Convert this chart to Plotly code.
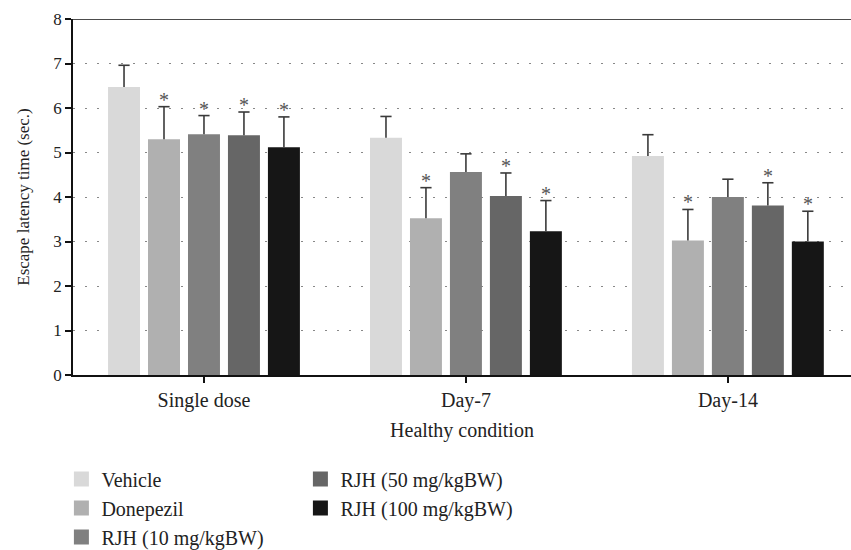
import plotly.graph_objects as go

categories = ["Single dose", "Day-7", "Day-14"]
series_names = ["Vehicle", "Donepezil", "RJH (10 mg/kgBW)", "RJH (50 mg/kgBW)", "RJH (100 mg/kgBW)"]
colors = ["#d9d9d9", "#b0b0b0", "#808080", "#666666", "#161616"]

vehicle = [6.47, 5.33, 4.92]
donepezil = [5.30, 3.52, 3.02]
rjh10 = [5.41, 4.56, 4.00]
rjh50 = [5.39, 4.02, 3.81]
rjh100 = [5.12, 3.23, 3.00]

vehicle_err = [0.49, 0.48, 0.48]
donepezil_err = [0.73, 0.69, 0.70]
rjh10_err = [0.42, 0.41, 0.40]
rjh50_err = [0.52, 0.52, 0.51]
rjh100_err = [0.68, 0.69, 0.68]

# significance flags (asterisk)
vehicle_sig = [False, False, False]
donepezil_sig = [True, True, True]
rjh10_sig = [True, False, False]
rjh50_sig = [True, True, True]
rjh100_sig = [True, True, True]

values = [vehicle, donepezil, rjh10, rjh50, rjh100]
errors = [vehicle_err, donepezil_err, rjh10_err, rjh50_err, rjh100_err]
sigs = [vehicle_sig, donepezil_sig, rjh10_sig, rjh50_sig, rjh100_sig]
legend_ids = ["legend", "legend", "legend", "legend2", "legend2"]

FONT = "Liberation Serif"
TXT = "#222222"
ERR = "#3a3a3a"
bargap = 0.237

fig = go.Figure()
for i, name in enumerate(series_names):
    fig.add_trace(go.Bar(
        x=categories, y=values[i], name=name, showlegend=False,
        offsetgroup=str(i),
        marker=dict(color=colors[i], line=dict(width=0)),
        error_y=dict(type="data", array=errors[i], arrayminus=[0] * 3, symmetric=False,
                     color=ERR, thickness=1.6, width=0),
    ))
for i, name in enumerate(series_names):
    tops = [v + e for v, e in zip(values[i], errors[i])]
    fig.add_trace(go.Scatter(
        x=categories, y=tops, mode="markers", showlegend=False,
        offsetgroup=str(i),
        marker=dict(symbol="line-ew", size=8, line=dict(color=ERR, width=1.6)),
        cliponaxis=False,
    ))
for i, name in enumerate(series_names):
    fig.add_trace(go.Scatter(
        x=[None], y=[None], mode="markers", name=name,
        marker=dict(symbol="square", size=15, color=colors[i]),
        legend=legend_ids[i], legendgroup=name,
    ))

annotations = []
n = len(series_names)
pitch = (1 - bargap) / n
for i in range(n):
    for c in range(len(categories)):
        if sigs[i][c]:
            annotations.append(dict(
                x=c + (i - (n - 1) / 2) * pitch, y=values[i][c] + errors[i][c],
                xref="x", yref="y", text="*", showarrow=False,
                yanchor="bottom", yshift=-6,
                font=dict(family=FONT, size=20, color="#555555"),
            ))

legend_common = dict(yanchor="top", xanchor="left", orientation="v",
                     font=dict(family=FONT, size=20, color=TXT), tracegroupgap=0,
                     itemwidth=30, bgcolor="rgba(0,0,0,0)", itemsizing="trace")

fig.update_layout(
    width=851, height=550,
    margin=dict(l=73, r=0, t=19, b=175, autoexpand=False),
    plot_bgcolor="white", paper_bgcolor="white",
    barmode="group", bargap=bargap, bargroupgap=0.2,
    scattermode="group", scattergap=bargap,
    font=dict(family=FONT, size=16, color=TXT),
    showlegend=True,
    annotations=annotations,
    legend=dict(x=-0.0149, y=-0.2374, **legend_common),
    legend2=dict(x=0.2923, y=-0.2374, **legend_common),
    shapes=[dict(type="line", xref="paper", yref="y", x0=0, x1=1, y0=8, y1=8,
                 line=dict(color="#111111", width=1.5))],
)

fig.update_xaxes(
    range=[-0.5, 2.47], showline=True, linecolor="#111111", linewidth=1.5,
    ticks="outside", ticklen=6, tickcolor="#111111", tickwidth=1.5,
    tickfont=dict(family=FONT, size=20, color=TXT),
    title=dict(text="Healthy condition", font=dict(family=FONT, size=20, color=TXT), standoff=12),
    showgrid=False, zeroline=False, automargin=False,
)
fig.update_yaxes(
    range=[0, 8], dtick=1, showline=True, linecolor="#111111", linewidth=1.5,
    ticks="outside", ticklen=6, tickcolor="#111111", tickwidth=1.5,
    tickfont=dict(family=FONT, size=17, color=TXT),
    title=dict(text="Escape latency time (sec.)", font=dict(family=FONT, size=17, color=TXT), standoff=19),
    showgrid=True, gridcolor="#888888", gridwidth=1.2, griddash="2px,10px",
    zeroline=False, automargin=False,
)

fig.write_html("out.html")
